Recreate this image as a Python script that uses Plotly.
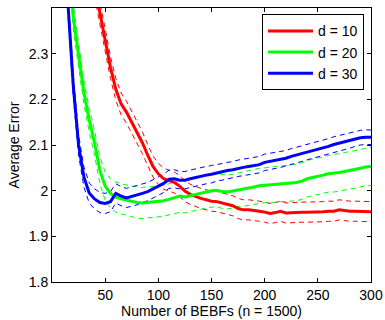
import plotly.graph_objects as go

x_vals = [10, 15, 20, 25, 30, 35, 40, 45, 50, 55, 60, 65, 70, 75, 80, 85, 90, 95, 100,
          105, 110, 115, 120, 125, 130, 135, 140, 145, 150, 155, 160, 165, 170, 175, 180,
          185, 190, 195, 200, 205, 210, 215, 220, 225, 230, 235, 240, 245, 250, 255, 260,
          265, 270, 275, 280, 285, 290, 295, 300]

err_d10 = [3.20, 2.95, 2.78, 2.66, 2.57, 2.50, 2.45, 2.39, 2.325, 2.27, 2.222, 2.19, 2.172,
           2.15, 2.128, 2.105, 2.078, 2.053, 2.037, 2.026, 2.022, 2.018, 2.010, 1.999,
           1.992, 1.987, 1.983, 1.980, 1.977, 1.976, 1.973, 1.970, 1.967, 1.961, 1.958,
           1.958, 1.957, 1.955, 1.953, 1.950, 1.952, 1.955, 1.951, 1.952, 1.952, 1.953,
           1.953, 1.953, 1.954, 1.954, 1.955, 1.955, 1.958, 1.956, 1.955, 1.955, 1.955,
           1.954, 1.954]
err_d20 = [2.90, 2.55, 2.38, 2.295, 2.215, 2.155, 2.105, 2.045, 2.010, 1.994, 1.986, 1.982,
           1.979, 1.976, 1.974, 1.973, 1.974, 1.975, 1.976, 1.978, 1.981, 1.984, 1.988,
           1.986, 1.989, 1.992, 1.995, 1.998, 2.000, 2.001, 1.998, 1.997, 1.999, 2.002,
           2.004, 2.006, 2.008, 2.011, 2.012, 2.013, 2.014, 2.015, 2.016, 2.017, 2.018,
           2.021, 2.026, 2.029, 2.031, 2.034, 2.037, 2.038, 2.040, 2.042, 2.044, 2.046,
           2.049, 2.052, 2.053]
err_d30 = [2.70, 2.41, 2.23, 2.10, 2.03, 1.995, 1.982, 1.974, 1.972, 1.976, 1.994, 1.988,
           1.984, 1.987, 1.990, 1.994, 1.998, 2.004, 2.010, 2.016, 2.025, 2.026, 2.023,
           2.023, 2.026, 2.029, 2.032, 2.034, 2.036, 2.039, 2.041, 2.044, 2.046, 2.049,
           2.051, 2.053, 2.055, 2.057, 2.062, 2.064, 2.066, 2.068, 2.071, 2.075, 2.078,
           2.081, 2.085, 2.088, 2.091, 2.094, 2.097, 2.101, 2.104, 2.107, 2.110, 2.113,
           2.116, 2.117, 2.117]

# half-width of dashed confidence bands
band_d10 = [0.030, 0.030, 0.028, 0.028, 0.027, 0.026, 0.025, 0.025, 0.024, 0.024, 0.024,
            0.024, 0.024, 0.024, 0.024, 0.024, 0.023, 0.023, 0.023, 0.023, 0.023, 0.023,
            0.023, 0.023, 0.022, 0.022, 0.022, 0.022, 0.022, 0.022, 0.022, 0.022, 0.022,
            0.022, 0.022, 0.022, 0.022, 0.022, 0.022, 0.022, 0.022, 0.022, 0.022, 0.022,
            0.022, 0.022, 0.022, 0.022, 0.022, 0.022, 0.022, 0.022, 0.022, 0.022, 0.022,
            0.022, 0.022, 0.022, 0.022]
band_d20 = [0.030, 0.028, 0.027, 0.026, 0.026, 0.026, 0.027, 0.029, 0.031, 0.032, 0.033,
            0.033, 0.033, 0.034, 0.034, 0.034, 0.034, 0.034, 0.034, 0.034, 0.034, 0.035,
            0.035, 0.035, 0.035, 0.035, 0.036, 0.036, 0.036, 0.036, 0.037, 0.037, 0.037,
            0.037, 0.038, 0.038, 0.038, 0.038, 0.038, 0.039, 0.039, 0.039, 0.039, 0.039,
            0.040, 0.040, 0.040, 0.040, 0.040, 0.040, 0.040, 0.041, 0.041, 0.041, 0.041,
            0.041, 0.041, 0.041, 0.042]
band_d30 = [0.025, 0.024, 0.023, 0.022, 0.022, 0.022, 0.022, 0.022, 0.022, 0.022, 0.021,
            0.021, 0.021, 0.021, 0.021, 0.020, 0.020, 0.020, 0.020, 0.020, 0.020, 0.020,
            0.019, 0.019, 0.019, 0.019, 0.019, 0.019, 0.019, 0.018, 0.018, 0.018, 0.018,
            0.018, 0.018, 0.018, 0.018, 0.018, 0.018, 0.018, 0.017, 0.017, 0.017, 0.017,
            0.017, 0.017, 0.017, 0.017, 0.017, 0.017, 0.017, 0.017, 0.017, 0.017, 0.017,
            0.016, 0.016, 0.016, 0.016]

series_names = ["d = 10", "d = 20", "d = 30"]
series_colors = ["#FF0000", "#00FF00", "#0000FF"]
x_ticks = [50, 100, 150, 200, 250, 300]
y_ticks = [1.8, 1.9, 2.0, 2.1, 2.2, 2.3]
y_tick_text = ["1.8", "1.9", "2", "2.1", "2.2", "2.3"]

means = [err_d10, err_d20, err_d30]
bands = [band_d10, band_d20, band_d30]

fig = go.Figure()
for name, col, m, b in zip(series_names, series_colors, means, bands):
    up = [a + c for a, c in zip(m, b)]
    lo = [a - c for a, c in zip(m, b)]
    for yy in (up, lo):
        fig.add_trace(go.Scatter(x=x_vals, y=yy, mode="lines", showlegend=False,
                                 line=dict(color=col, width=1, dash="5px,4px"),
                                 hoverinfo="skip"))
for name, col, m in zip(series_names, series_colors, means):
    fig.add_trace(go.Scatter(x=x_vals, y=m, mode="lines", name=name,
                             line=dict(color=col, width=3)))

axis_common = dict(showgrid=False, zeroline=False, showline=True, linecolor="black",
                   linewidth=1, mirror="ticks", ticks="inside", ticklen=4,
                   tickcolor="black", tickfont=dict(size=14, color="black"),
                   automargin=False)

fig.update_layout(
    width=385, height=320,
    margin=dict(l=52, r=14, t=8, b=38, autoexpand=False),
    paper_bgcolor="white", plot_bgcolor="white",
    font=dict(family="Liberation Sans, Arial, sans-serif", color="black"),
    xaxis=dict(range=[0, 300], tickvals=x_ticks,
               title=dict(text="Number of BEBFs (n = 1500)", font=dict(size=14), standoff=1),
               **axis_common),
    yaxis=dict(range=[1.8, 2.4], tickvals=y_ticks, ticktext=y_tick_text,
               title=dict(text="Average Error", font=dict(size=14), standoff=5),
               **axis_common),
    legend=dict(x=0.978, y=0.977, xanchor="right", yanchor="top",
                bgcolor="white", bordercolor="black", borderwidth=1,
                font=dict(size=14), tracegroupgap=0, itemwidth=45),
)

fig.write_html("out.html", config={"displayModeBar": False},
               post_script="document.body.style.margin='0px';")
